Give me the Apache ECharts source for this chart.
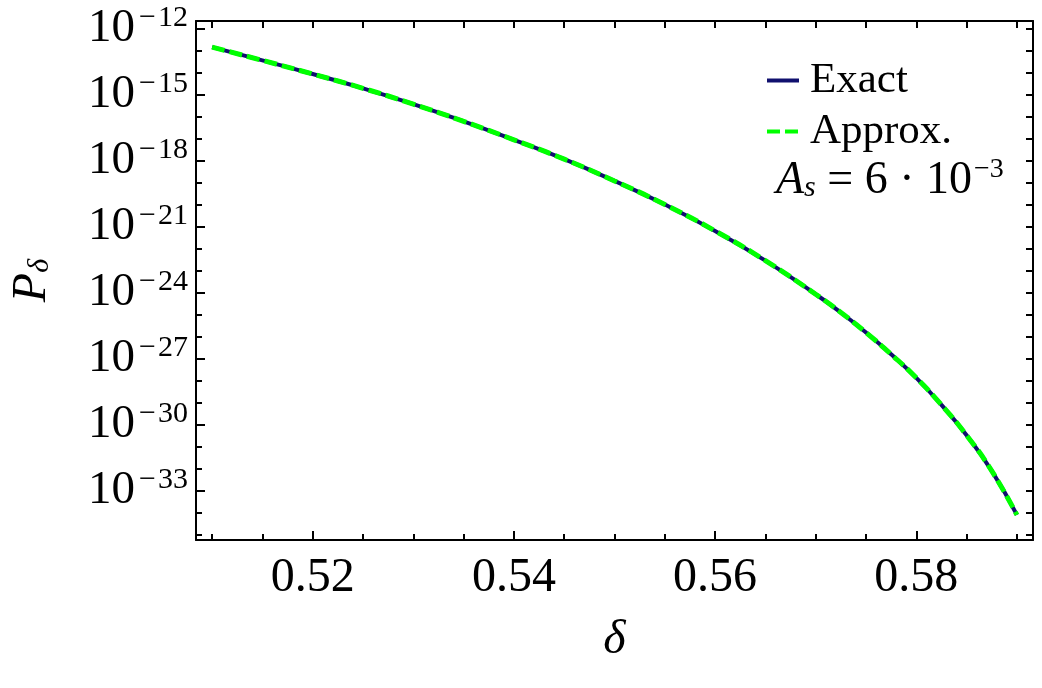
<!DOCTYPE html>
<html>
<head>
<meta charset="utf-8">
<script src="https://cdn.jsdelivr.net/npm/echarts@6/dist/echarts.min.js"></script>
<style>
  html, body { margin: 0; padding: 0; background: #fff; }
  #chart { width: 1042px; height: 688px; }
</style>
</head>
<body>
<div id="chart"></div>
<script>
// delta values and log10 of P_delta
var deltaVals = [0.510, 0.515, 0.520, 0.525, 0.530, 0.535, 0.540, 0.545, 0.550, 0.555, 0.560, 0.565,
                 0.570, 0.5725, 0.575, 0.5775, 0.580, 0.5825, 0.585, 0.5875, 0.590];
var exactLog = [-12.83, -13.43, -14.05, -14.70, -15.42, -16.20, -17.04, -17.92, -18.91, -19.98, -21.18, -22.53,
                -24.06, -24.89, -25.80, -26.79, -27.86, -29.09, -30.47, -32.09, -34.09];
var approxLog = [-12.83, -13.43, -14.05, -14.70, -15.42, -16.20, -17.04, -17.92, -18.91, -19.98, -21.18, -22.53,
                 -24.06, -24.89, -25.80, -26.79, -27.86, -29.09, -30.47, -32.09, -34.09];

var xLabels = [0.52, 0.54, 0.56, 0.58];
var xMinor = [0.51, 0.515, 0.52, 0.525, 0.53, 0.535, 0.54, 0.545, 0.55, 0.555, 0.56, 0.565, 0.57, 0.575, 0.58, 0.585, 0.59];
var yLabels = [-33, -30, -27, -24, -21, -18, -15, -12];
var yMinor = [-35, -34, -33, -32, -31, -30, -29, -28, -27, -26, -25, -24, -23, -22, -21, -20,
              -19, -18, -17, -16, -15, -14, -13, -12];

var xMin = 0.5084, xMax = 0.5916;
var yMin = -35.23, yMax = -11.64;
var serif = 'Liberation Serif';

function pairs(ys) {
	var out = [];
	for (var i = 0; i < deltaVals.length; i++) {
		out.push([deltaVals[i], ys[i]]);
	}
	return out;
}

var myChart = echarts.init(document.getElementById('chart'));

var frameLine = { show: true, lineStyle: { color: '#000', width: 2 } };

var option = {
	animation: false,
	backgroundColor: '#fff',
	grid: { left: 196, top: 21, right: 9, bottom: 148 },
	legend: {
		orient: 'vertical',
		left: 760,
		top: 54,
		itemWidth: 32,
		itemHeight: 20,
		itemGap: 8,
		itemStyle: { opacity: 0 },
		lineStyle: { width: 4 },
		textStyle: { fontFamily: serif, fontSize: 43, color: '#000', padding: [0, 0, 0, 6] },
		data: ['Exact', 'Approx.']
	},
	graphic: [{
		type: 'text',
		left: 776,
		top: 156,
		style: {
			text: '{i|A}{s|s}{n| = 6 · 10}{e|−3}',
			rich: {
				i: { fontFamily: serif, fontStyle: 'italic', fontSize: 46, fill: '#000' },
				s: { fontFamily: serif, fontStyle: 'italic', fontSize: 30, padding: [14, 0, 0, 0], fill: '#000' },
				n: { fontFamily: serif, fontSize: 46, fill: '#000' },
				e: { fontFamily: serif, fontSize: 28, padding: [0, 0, 22, 2], fill: '#000' }
			}
		}
	}],
	xAxis: [{
		type: 'value', position: 'bottom', min: xMin, max: xMax,
		axisLine: frameLine,
		splitLine: { show: false },
		axisTick: { inside: true, length: 6, customValues: xMinor, lineStyle: { color: '#000', width: 2 } },
		axisLabel: {
			customValues: xLabels, margin: 14, color: '#000', fontFamily: serif, fontSize: 48,
			formatter: function (v) { return v.toFixed(2); }
		},
		name: 'δ', nameLocation: 'middle', nameGap: 76,
		nameTextStyle: { fontFamily: serif, fontStyle: 'italic', fontSize: 48, color: '#000' }
	}, {
		type: 'value', position: 'bottom', min: xMin, max: xMax,
		axisLine: { show: false }, splitLine: { show: false }, axisLabel: { show: false },
		axisTick: { inside: true, length: 9, customValues: xLabels, lineStyle: { color: '#000', width: 2 } }
	}, {
		type: 'value', position: 'top', min: xMin, max: xMax,
		axisLine: frameLine, splitLine: { show: false }, axisLabel: { show: false },
		axisTick: { inside: true, length: 7, customValues: xMinor, lineStyle: { color: '#000', width: 2 } }
	}],
	yAxis: [{
		type: 'value', position: 'left', min: yMin, max: yMax,
		axisLine: frameLine,
		splitLine: { show: false },
		axisTick: { inside: true, length: 6, customValues: yMinor, lineStyle: { color: '#000', width: 2 } },
		axisLabel: {
			customValues: yLabels, margin: 8, color: '#000',
			formatter: function (v) { return '{b|10}{m|−}{e|' + (-v) + '}'; },
			rich: {
				b: { fontFamily: serif, fontSize: 47, color: '#000' },
				m: { fontFamily: serif, fontSize: 30, color: '#000', padding: [0, 2, 22, 4] },
				e: { fontFamily: serif, fontSize: 30, color: '#000', padding: [0, 0, 22, 0] }
			}
		},
		name: '{p|P}{s|δ}', nameLocation: 'middle', nameGap: 140,
		nameTextStyle: {
			rich: {
				p: { fontFamily: serif, fontStyle: 'italic', fontSize: 48, color: '#000' },
				s: { fontFamily: serif, fontStyle: 'italic', fontSize: 30, color: '#000', padding: [16, 0, 0, 0] }
			}
		}
	}, {
		type: 'value', position: 'left', min: yMin, max: yMax,
		axisLine: { show: false }, splitLine: { show: false }, axisLabel: { show: false },
		axisTick: { inside: true, length: 9, customValues: yLabels, lineStyle: { color: '#000', width: 2 } }
	}, {
		type: 'value', position: 'right', min: yMin, max: yMax,
		axisLine: frameLine, splitLine: { show: false }, axisLabel: { show: false },
		axisTick: { inside: true, length: 7, customValues: yMinor, lineStyle: { color: '#000', width: 2 } }
	}],
	series: [{
		name: 'Exact',
		type: 'line',
		smooth: 0.5,
		symbol: 'none',
		color: '#10106e',
		lineStyle: { color: '#10106e', width: 4 },
		data: pairs(exactLog)
	}, {
		name: 'Approx.',
		type: 'line',
		smooth: 0.5,
		symbol: 'none',
		color: '#00ff00',
		lineStyle: { color: '#00ff00', width: 5, type: [13, 5] },
		data: pairs(approxLog)
	}]
};

myChart.setOption(option);
</script>
</body>
</html>
